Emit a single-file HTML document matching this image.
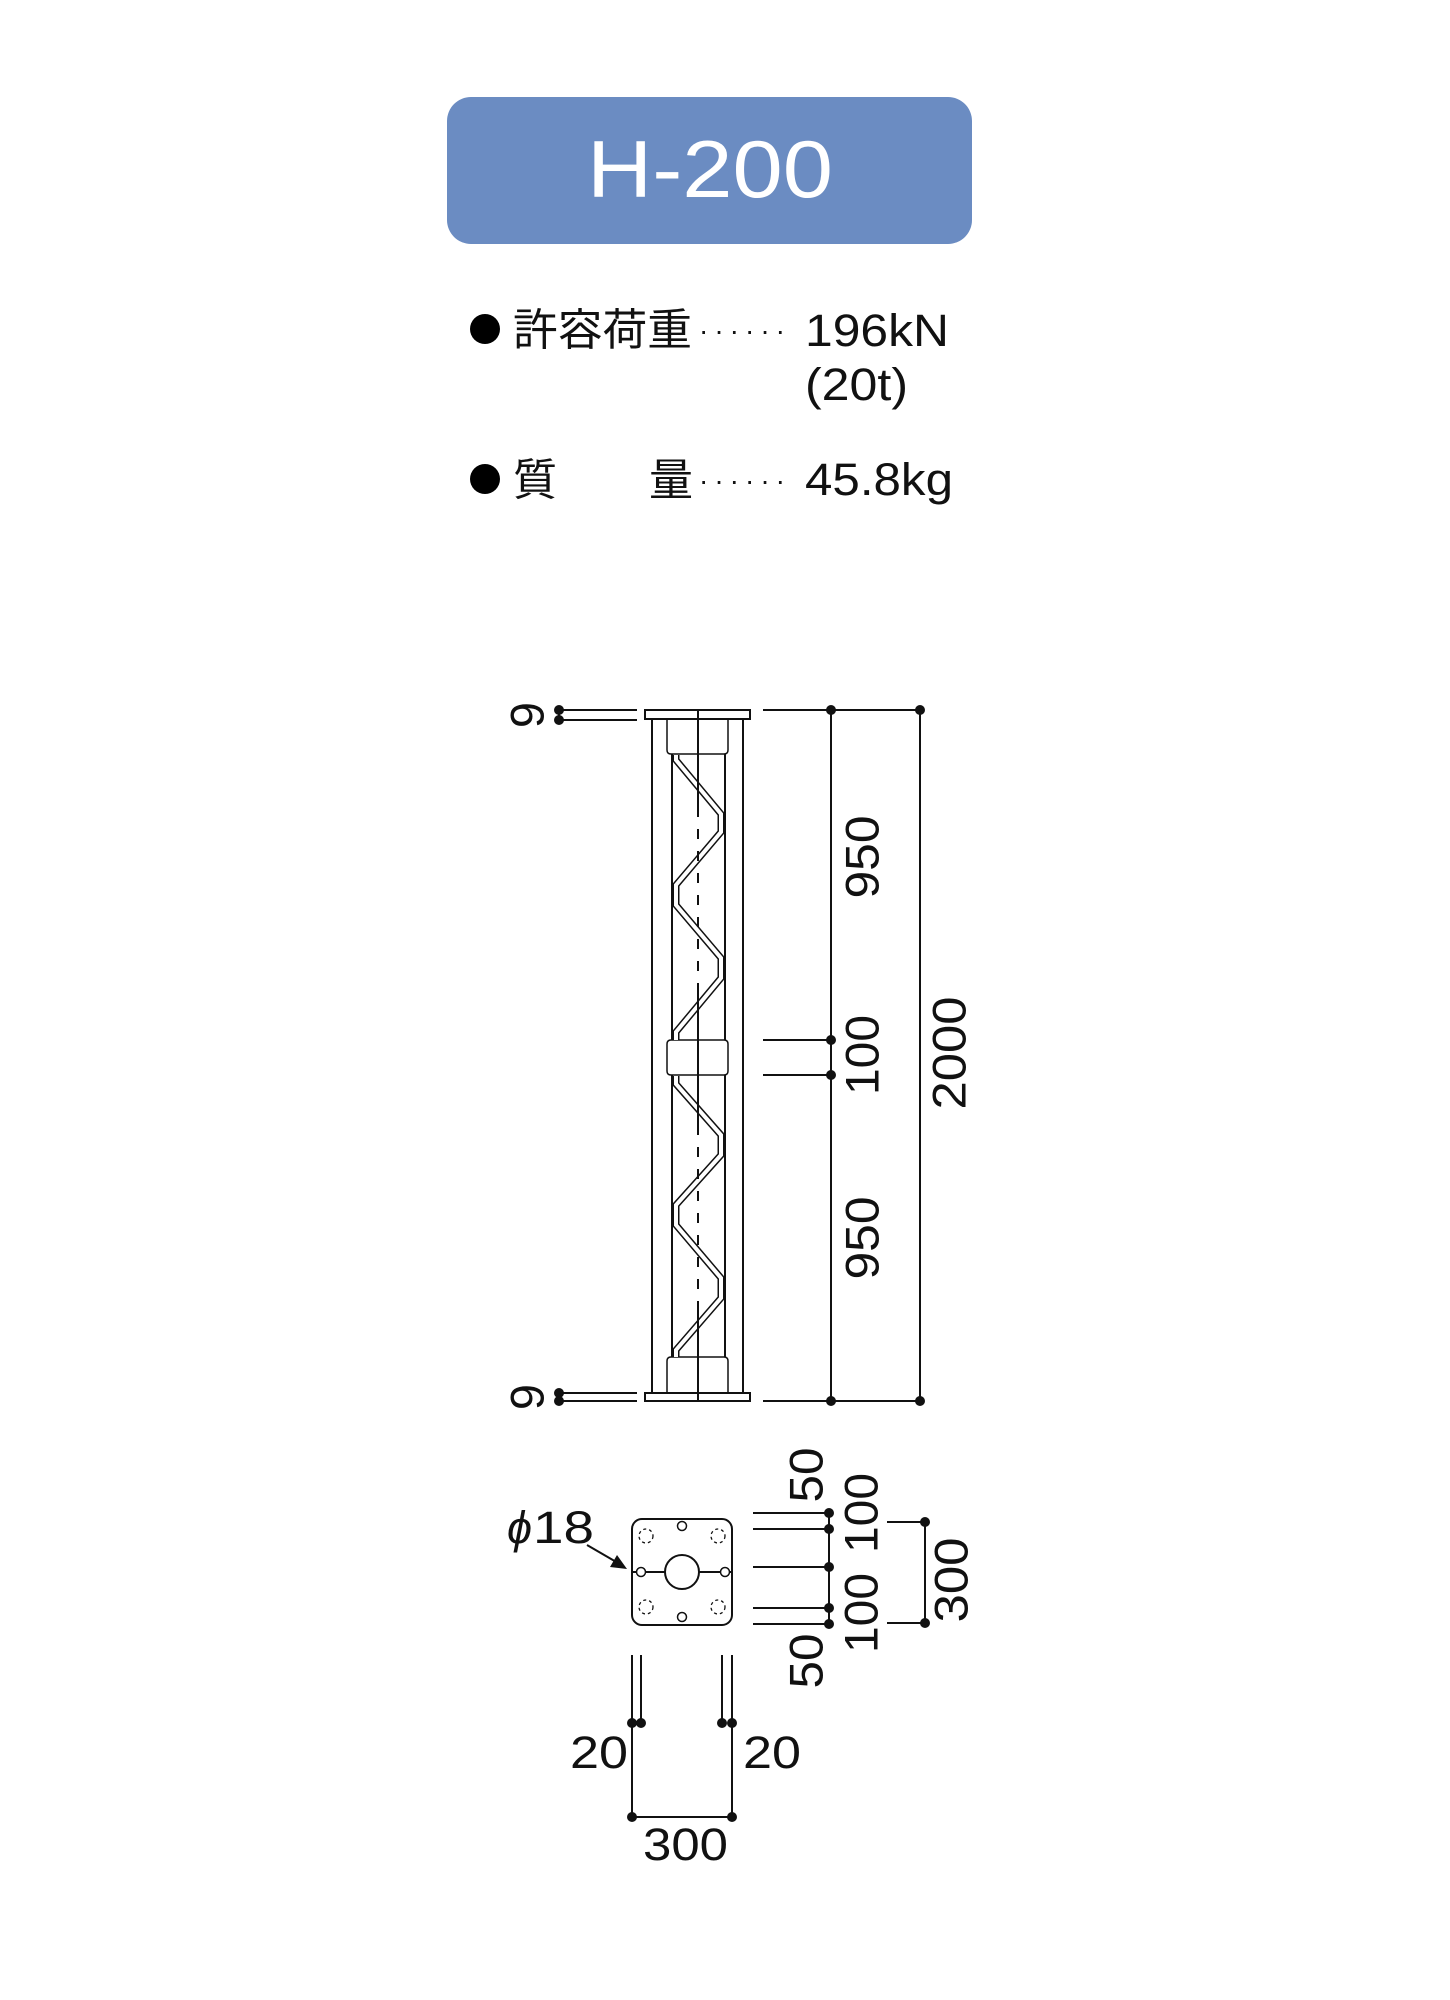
<!DOCTYPE html>
<html><head><meta charset="utf-8"><style>
html,body{margin:0;padding:0;background:#fff;}
svg{display:block;}
text{font-family:"Liberation Sans","Noto Sans CJK JP",sans-serif;fill:#111;}
</style></head><body>
<svg width="1450" height="2000" viewBox="0 0 1450 2000" xmlns="http://www.w3.org/2000/svg">
<rect x="447" y="97" width="525" height="147" rx="24" fill="#6b8cc2"/>
<text x="587" y="197" font-size="81" textLength="246" lengthAdjust="spacingAndGlyphs" style="fill:#fff">H-200</text>

<circle cx="485" cy="329" r="15" fill="#000"/>
<text x="513" y="345" font-size="44" textLength="179" lengthAdjust="spacingAndGlyphs">許容荷重</text>
<text x="699" y="340" font-size="28" textLength="86" lengthAdjust="spacing">······</text>
<text x="805" y="346" font-size="45" textLength="144" lengthAdjust="spacingAndGlyphs">196kN</text>
<text x="805" y="400" font-size="45" textLength="103" lengthAdjust="spacingAndGlyphs">(20t)</text>
<circle cx="485" cy="479" r="15" fill="#000"/>
<text x="513" y="495" font-size="44" textLength="44" lengthAdjust="spacingAndGlyphs">質</text>
<text x="649" y="495" font-size="44" textLength="44" lengthAdjust="spacingAndGlyphs">量</text>
<text x="699" y="490" font-size="28" textLength="86" lengthAdjust="spacing">······</text>
<text x="805" y="495" font-size="45" textLength="148" lengthAdjust="spacingAndGlyphs">45.8kg</text>

<g stroke="#111" stroke-width="2" fill="none">
<rect x="645" y="710" width="105" height="9" fill="#fff"/>
<rect x="645" y="1393" width="105" height="8" fill="#fff"/>
<line x1="652" y1="719" x2="652" y2="1393"/>
<line x1="743" y1="719" x2="743" y2="1393"/>
<line x1="672" y1="754" x2="672" y2="1040"/>
<line x1="725" y1="754" x2="725" y2="1040"/>
<line x1="672" y1="1075" x2="672" y2="1357"/>
<line x1="725" y1="1075" x2="725" y2="1357"/>
<path d="M667 719 V750 q0 4 4 4 H724 q4 0 4 -4 V719" stroke-width="1.5"/>
<path d="M671 1040 H724 q4 0 4 4 V1071 q0 4 -4 4 H671 q-4 0 -4 -4 V1044 q0 -4 4 -4Z" stroke-width="1.5" fill="#fff"/>
<path d="M667 1393 V1361 q0 -4 4 -4 H724 q4 0 4 4 V1393" stroke-width="1.5"/>
<g stroke-linejoin="miter">
<path d="M676 755 L676 760 L721 814 L721 832 L676 885 L676 905 L721 958 L721 978 L676 1032 L676 1040" stroke-width="7"/>
<path d="M676 755 L676 760 L721 814 L721 832 L676 885 L676 905 L721 958 L721 978 L676 1032 L676 1040" stroke="#fff" stroke-width="4"/>
<path d="M676 1076 L676 1084 L721 1135 L721 1155 L676 1205 L676 1225 L721 1278 L721 1298 L676 1350 L676 1357" stroke-width="7"/>
<path d="M676 1076 L676 1084 L721 1135 L721 1155 L676 1205 L676 1225 L721 1278 L721 1298 L676 1350 L676 1357" stroke="#fff" stroke-width="4"/>
</g>
<line x1="698" y1="710" x2="698" y2="807"/>
<line x1="698" y1="807" x2="698" y2="983" stroke-dasharray="10 12"/>
<line x1="698" y1="983" x2="698" y2="1125"/>
<line x1="698" y1="1125" x2="698" y2="1303" stroke-dasharray="10 12"/>
<line x1="698" y1="1303" x2="698" y2="1401"/>
<line x1="559" y1="710" x2="637" y2="710"/><line x1="559" y1="720" x2="637" y2="720"/>
<line x1="559" y1="1393" x2="637" y2="1393"/><line x1="559" y1="1401" x2="637" y2="1401"/>
<line x1="559" y1="710" x2="559" y2="720"/><line x1="559" y1="1393" x2="559" y2="1401"/>
<line x1="763" y1="710" x2="920" y2="710"/>
<line x1="763" y1="1401" x2="920" y2="1401"/>
<line x1="831" y1="710" x2="831" y2="1401"/>
<line x1="920" y1="710" x2="920" y2="1401"/>
<line x1="763" y1="1040" x2="831" y2="1040"/>
<line x1="763" y1="1075" x2="831" y2="1075"/>
<rect x="632" y="1519" width="100" height="106" rx="10"/>
<circle cx="682" cy="1572" r="17"/>
<line x1="632" y1="1572" x2="665" y2="1572"/><line x1="699" y1="1572" x2="732" y2="1572"/>
<g stroke-width="1.5" fill="#fff">
<circle cx="641" cy="1572" r="4.5"/><circle cx="725" cy="1572" r="4.5"/>
<circle cx="682" cy="1526" r="4.5"/><circle cx="682" cy="1617" r="4.5"/>
</g>
<g stroke-width="1.3" stroke-dasharray="3 3">
<circle cx="646" cy="1536" r="7"/><circle cx="718" cy="1536" r="7"/>
<circle cx="646" cy="1607" r="7"/><circle cx="718" cy="1607" r="7"/>
</g>
<line x1="587" y1="1545" x2="618" y2="1563"/>
<line x1="753" y1="1513" x2="829" y2="1513"/>
<line x1="753" y1="1529" x2="829" y2="1529"/>
<line x1="753" y1="1567" x2="829" y2="1567"/>
<line x1="753" y1="1608" x2="829" y2="1608"/>
<line x1="753" y1="1624" x2="829" y2="1624"/>
<line x1="829" y1="1513" x2="829" y2="1624"/>
<line x1="887" y1="1522" x2="925" y2="1522"/>
<line x1="887" y1="1623" x2="925" y2="1623"/>
<line x1="925" y1="1522" x2="925" y2="1623"/>
<line x1="632" y1="1655" x2="632" y2="1817"/>
<line x1="641" y1="1655" x2="641" y2="1723"/>
<line x1="722" y1="1655" x2="722" y2="1723"/>
<line x1="732" y1="1655" x2="732" y2="1817"/>
<line x1="632" y1="1817" x2="732" y2="1817"/>
</g>
<polygon points="627,1569 610,1567 617,1555" fill="#111"/>
<g fill="#111">
<circle cx="559" cy="710" r="5"/><circle cx="559" cy="720" r="5"/>
<circle cx="559" cy="1393" r="5"/><circle cx="559" cy="1401" r="5"/>
<circle cx="831" cy="710" r="5"/><circle cx="920" cy="710" r="5"/>
<circle cx="831" cy="1401" r="5"/><circle cx="920" cy="1401" r="5"/>
<circle cx="831" cy="1040" r="5"/><circle cx="831" cy="1075" r="5"/>
<circle cx="829" cy="1513" r="5"/><circle cx="829" cy="1529" r="5"/><circle cx="829" cy="1567" r="5"/>
<circle cx="829" cy="1608" r="5"/><circle cx="829" cy="1624" r="5"/>
<circle cx="925" cy="1522" r="5"/><circle cx="925" cy="1623" r="5"/>
<circle cx="632" cy="1723" r="5"/><circle cx="641" cy="1723" r="5"/>
<circle cx="722" cy="1723" r="5"/><circle cx="732" cy="1723" r="5"/>
<circle cx="632" cy="1817" r="5"/><circle cx="732" cy="1817" r="5"/>
</g>
<g font-size="47" text-anchor="middle" dominant-baseline="central" lengthAdjust="spacingAndGlyphs">
<text transform="translate(527,715) rotate(-90)">9</text>
<text transform="translate(527,1397) rotate(-90)">9</text>
<text transform="translate(862,857) rotate(-90)" textLength="83" lengthAdjust="spacingAndGlyphs">950</text>
<text transform="translate(862,1055) rotate(-90)" textLength="80" lengthAdjust="spacingAndGlyphs">100</text>
<text transform="translate(862,1238) rotate(-90)" textLength="83" lengthAdjust="spacingAndGlyphs">950</text>
<text transform="translate(949,1053) rotate(-90)" textLength="113" lengthAdjust="spacingAndGlyphs">2000</text>
<text transform="translate(806,1475) rotate(-90)" textLength="55" lengthAdjust="spacingAndGlyphs">50</text>
<text transform="translate(861,1513) rotate(-90)" textLength="80" lengthAdjust="spacingAndGlyphs">100</text>
<text transform="translate(861,1613) rotate(-90)" textLength="80" lengthAdjust="spacingAndGlyphs">100</text>
<text transform="translate(806,1661) rotate(-90)" textLength="55" lengthAdjust="spacingAndGlyphs">50</text>
<text transform="translate(951,1580) rotate(-90)" textLength="85" lengthAdjust="spacingAndGlyphs">300</text>
</g>
<g font-size="45">
<text x="507" y="1543" font-style="italic">ϕ</text>
<text x="533" y="1543" textLength="61" lengthAdjust="spacingAndGlyphs">18</text>
<text x="570" y="1768" textLength="58" lengthAdjust="spacingAndGlyphs">20</text>
<text x="743" y="1768" textLength="58" lengthAdjust="spacingAndGlyphs">20</text>
<text x="643" y="1860" textLength="85" lengthAdjust="spacingAndGlyphs">300</text>
</g>
</svg>
</body></html>
